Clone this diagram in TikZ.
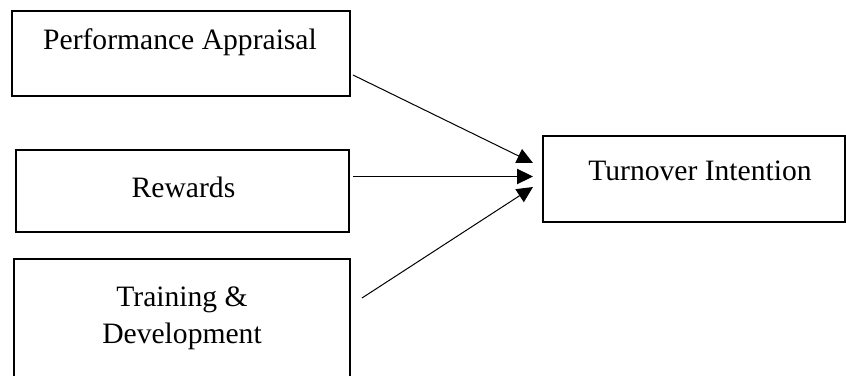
\documentclass[tikz,border=0pt]{standalone}
\usepackage{fontspec}
\setmainfont{Liberation Serif}
\usetikzlibrary{arrows.meta}
\begin{document}
\begin{tikzpicture}[x=0.75pt,y=-0.75pt,
  box/.style={draw,line width=1.1pt,rectangle,inner sep=0pt},
  lbl/.style={anchor=base,inner sep=0pt,font=\fontsize{22.2}{27.75}\selectfont},
  conn/.style={line width=0.75pt,-{Triangle[length=12pt,width=11.5pt]}}]
\clip (0,0) rectangle (846,375);
\fill[white] (0,0) rectangle (846,375);
\node[box,minimum width=338*0.75pt,minimum height=85*0.75pt] (pa) at (181,53.5) {};
\node[box,minimum width=333*0.75pt,minimum height=82*0.75pt] (rw) at (182.5,191) {};
\node[box,minimum width=336*0.75pt,minimum height=126*0.75pt] (td) at (182,322) {};
\node[box,minimum width=302*0.75pt,minimum height=86*0.75pt] (ti) at (694,179) {};
\node[lbl] (tpa) at (180,49) {Performance Appraisal};
\node[lbl] (trw) at (183.5,197) {Rewards};
\node[lbl] (ttd1) at (182,306) {Training \&};
\node[lbl] (ttd2) at (182,343) {Development};
\node[lbl] (tti) at (700,180) {Turnover Intention};
\coordinate (s1) at (353,75);
\coordinate (s2) at (353,176.5);
\coordinate (s3) at (362,298);
\coordinate (e1) at (533,163);
\coordinate (e2) at (533,176.5);
\coordinate (e3) at (533,187);
\draw[conn] (s1) -- (e1);
\draw[conn] (s2) -- (e2);
\draw[conn] (s3) -- (e3);
\end{tikzpicture}
\end{document}
